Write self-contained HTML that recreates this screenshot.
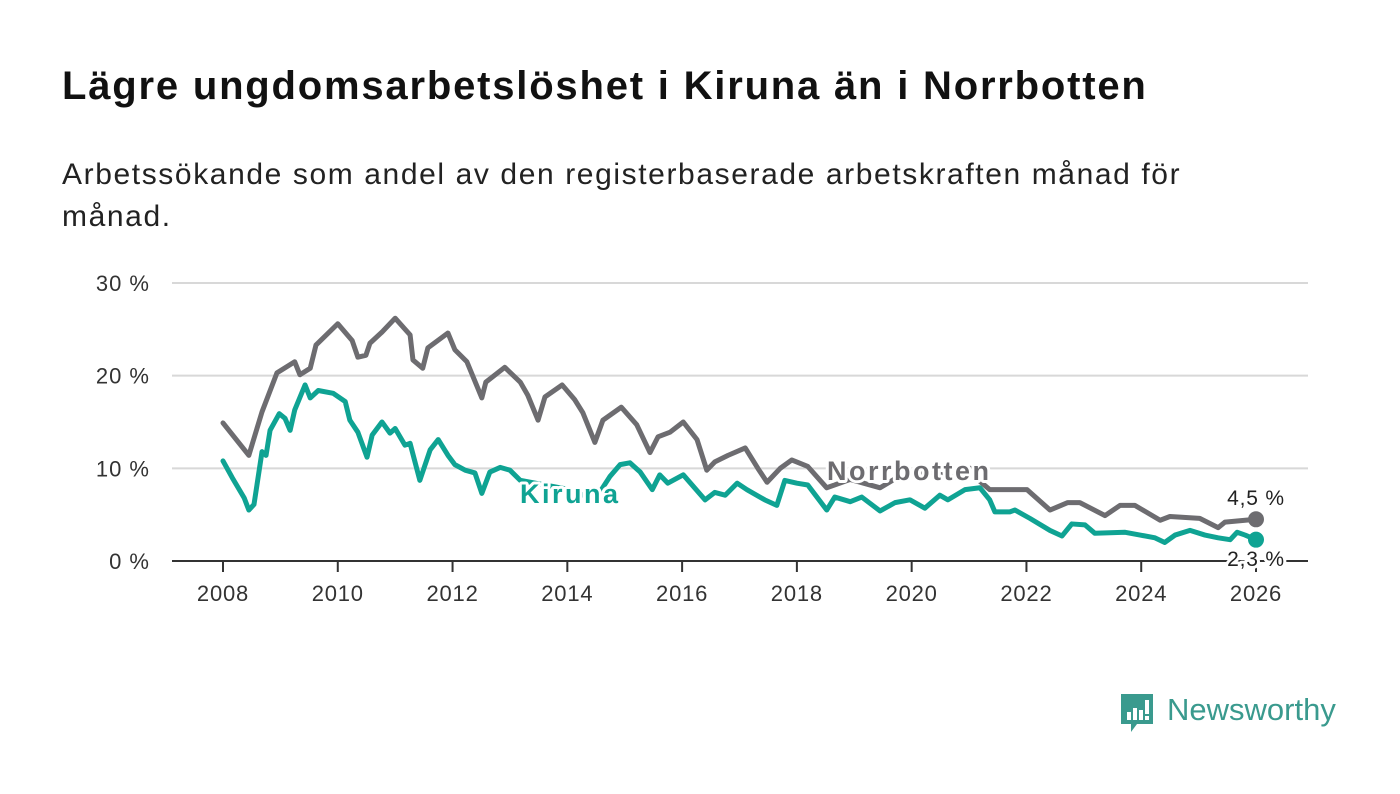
<!DOCTYPE html>
<html><head><meta charset="utf-8"><style>
body{margin:0;width:1400px;height:794px;background:#fff;font-family:"Liberation Sans","DejaVu Sans",sans-serif;overflow:hidden;position:relative}
#title{position:absolute;left:62px;top:64px;font-size:40px;letter-spacing:1.8px;font-weight:bold;color:#111;margin:0}
#sub{position:absolute;left:62px;top:154px;font-size:30px;letter-spacing:1.6px;color:#222;line-height:42px;width:1185px}
svg{position:absolute;left:0;top:0}
</style></head><body>
<h1 id="title">Lägre ungdomsarbetslöshet i Kiruna än i Norrbotten</h1>
<div id="sub">Arbetssökande som andel av den registerbaserade arbetskraften månad för månad.</div>
<svg id="chart" width="1400" height="794"></svg>
<script>
const yTicks=[0,10,20,30];
const yTickLabels=["0 %","10 %","20 %","30 %"];
const xTicks=[2008,2010,2012,2014,2016,2018,2020,2022,2024,2026];
const norrYears=[2008.00,2008.45,2008.68,2008.94,2009.25,2009.34,2009.52,2009.62,2010.00,2010.25,2010.35,2010.49,2010.56,2010.77,2011.00,2011.26,2011.31,2011.48,2011.57,2011.92,2012.04,2012.25,2012.51,2012.58,2012.91,2013.18,2013.31,2013.49,2013.61,2013.91,2014.13,2014.27,2014.48,2014.62,2014.94,2015.21,2015.44,2015.58,2015.79,2016.02,2016.26,2016.43,2016.57,2016.80,2017.10,2017.32,2017.48,2017.71,2017.91,2018.19,2018.52,2018.93,2019.45,2019.80,2020.32,2020.75,2021.02,2021.19,2021.36,2022.01,2022.41,2022.72,2022.93,2023.37,2023.63,2023.89,2024.33,2024.50,2025.02,2025.34,2025.46,2026.00];
const norrValues=[14.9,11.4,16.1,20.3,21.5,20.1,20.8,23.3,25.6,23.8,22.0,22.2,23.5,24.7,26.2,24.4,21.7,20.8,23.0,24.6,22.8,21.5,17.6,19.3,20.9,19.3,17.9,15.2,17.7,19.0,17.4,16.0,12.8,15.2,16.6,14.7,11.7,13.4,13.9,15.0,13.1,9.8,10.7,11.4,12.2,10.0,8.5,10.0,10.9,10.2,7.9,8.8,7.9,9.2,9.6,9.0,10.0,8.6,7.7,7.7,5.5,6.3,6.3,4.9,6.0,6.0,4.4,4.8,4.6,3.6,4.2,4.5];
const kirYears=[2008.00,2008.16,2008.37,2008.45,2008.54,2008.68,2008.75,2008.82,2008.98,2009.08,2009.17,2009.25,2009.43,2009.52,2009.66,2009.92,2010.13,2010.21,2010.35,2010.51,2010.60,2010.77,2010.91,2011.00,2011.17,2011.26,2011.43,2011.61,2011.75,2011.92,2012.04,2012.22,2012.39,2012.51,2012.65,2012.83,2013.00,2013.18,2013.61,2014.05,2014.48,2014.74,2014.92,2015.09,2015.27,2015.48,2015.61,2015.75,2016.02,2016.40,2016.57,2016.75,2016.96,2017.13,2017.44,2017.65,2017.79,2018.00,2018.19,2018.52,2018.66,2018.93,2019.13,2019.45,2019.71,2019.97,2020.23,2020.49,2020.63,2020.93,2021.19,2021.36,2021.45,2021.71,2021.80,2022.06,2022.41,2022.62,2022.79,2023.02,2023.19,2023.72,2023.98,2024.24,2024.41,2024.59,2024.85,2025.11,2025.34,2025.55,2025.67,2025.81,2026.00];
const kirValues=[10.8,9.0,6.8,5.5,6.1,11.8,11.4,14.1,15.9,15.4,14.1,16.3,19.0,17.6,18.4,18.1,17.2,15.2,13.9,11.2,13.6,15.0,13.8,14.3,12.5,12.7,8.7,12.0,13.1,11.4,10.4,9.8,9.5,7.3,9.6,10.1,9.8,8.7,8.2,7.7,6.6,9.1,10.4,10.6,9.6,7.7,9.3,8.4,9.3,6.6,7.4,7.1,8.4,7.7,6.6,6.0,8.7,8.4,8.2,5.5,6.9,6.4,6.9,5.4,6.3,6.6,5.7,7.1,6.6,7.7,7.9,6.6,5.3,5.3,5.5,4.6,3.3,2.7,4.0,3.9,3.0,3.1,2.8,2.5,2.0,2.8,3.3,2.8,2.5,2.3,3.1,2.8,2.3];
const NS="http://www.w3.org/2000/svg";
const svg=document.getElementById('chart');
const X=y=>223+(y-2008)*(1256-223)/18;
const Y=v=>561-v*(561-283)/30;
function mk(t,a,txt){const e=document.createElementNS(NS,t);for(const k in a)e.setAttribute(k,a[k]);if(txt!==undefined)e.textContent=txt;svg.appendChild(e);return e;}
yTicks.forEach((t,i)=>{
  if(t>0){const g=mk('line',{x1:172,x2:1308,y1:Y(t),y2:Y(t),stroke:'#d8d8d8','stroke-width':2});
  
  }
  const l=mk('text',{x:150,y:Y(t)+8,'text-anchor':'end','font-size':22,'letter-spacing':1,fill:'#333'},yTickLabels[i]);
  
  
});
const ax=mk('line',{x1:172,x2:1308,y1:Y(0),y2:Y(0),stroke:'#333','stroke-width':2});


xTicks.forEach(t=>{
  const tk=mk('line',{x1:X(t),x2:X(t),y1:Y(0),y2:Y(0)+11,stroke:'#333','stroke-width':2});
  
  
  const l=mk('text',{x:X(t),y:601,'text-anchor':'middle','font-size':22,'letter-spacing':0.8,fill:'#333'},t);
  
  
});
function line(xs,vs,col,name){
  const p=mk('polyline',{points:xs.map((x,i)=>X(x)+','+Y(vs[i])).join(' '),fill:'none',stroke:col,'stroke-width':5,'stroke-linejoin':'round','stroke-linecap':'round'});
  
  
  const n=xs.length-1;
  const d=mk('circle',{cx:X(xs[n]),cy:Y(vs[n]),r:8,fill:col});
  
  
}
line(norrYears,norrValues,'#6d6c70','norrbotten-line');
line(kirYears,kirValues,'#0fa393','kiruna-line');
function lab(x,y,txt,col,size,bold,name,anchor,ls){
  const a={x:x,y:y,'font-size':size,fill:col,'font-weight':bold?'bold':'normal',stroke:'#fff','stroke-width':6,'paint-order':'stroke','stroke-linejoin':'round','text-anchor':anchor||'start','letter-spacing':ls||0};
  const t=mk('text',a,txt);
  
  
}
lab(520,503,'Kiruna','#0fa393',27,true,'kiruna-label','start',2.5);
lab(827,480,'Norrbotten','#6d6c70',27,true,'norrbotten-label','start',2.5);
lab(1256,505,'4,5 %','#222',21,false,'norrbotten-end-value','middle',0.8);
lab(1256,566,'2,3 %','#222',21,false,'kiruna-end-value','middle',0.8);
</script>
<div style="position:absolute;left:1119px;top:692px;display:flex;align-items:center">
<svg width="36" height="44" style="position:static"><path d="M2 2h32v30H18l-6 8v-8H2z" fill="#3a9a8e"/><rect x="8" y="20" width="4" height="8" fill="#fff"/><rect x="14" y="16" width="4" height="12" fill="#fff"/><rect x="20" y="18" width="4" height="10" fill="#fff"/><rect x="26" y="8" width="4" height="14" fill="#fff"/><rect x="26" y="24" width="4" height="4" fill="#fff"/></svg>
<span style="font-size:31px;color:#3a9a8e;margin-left:12px;margin-top:-8px">Newsworthy</span>
</div>
</body></html>
